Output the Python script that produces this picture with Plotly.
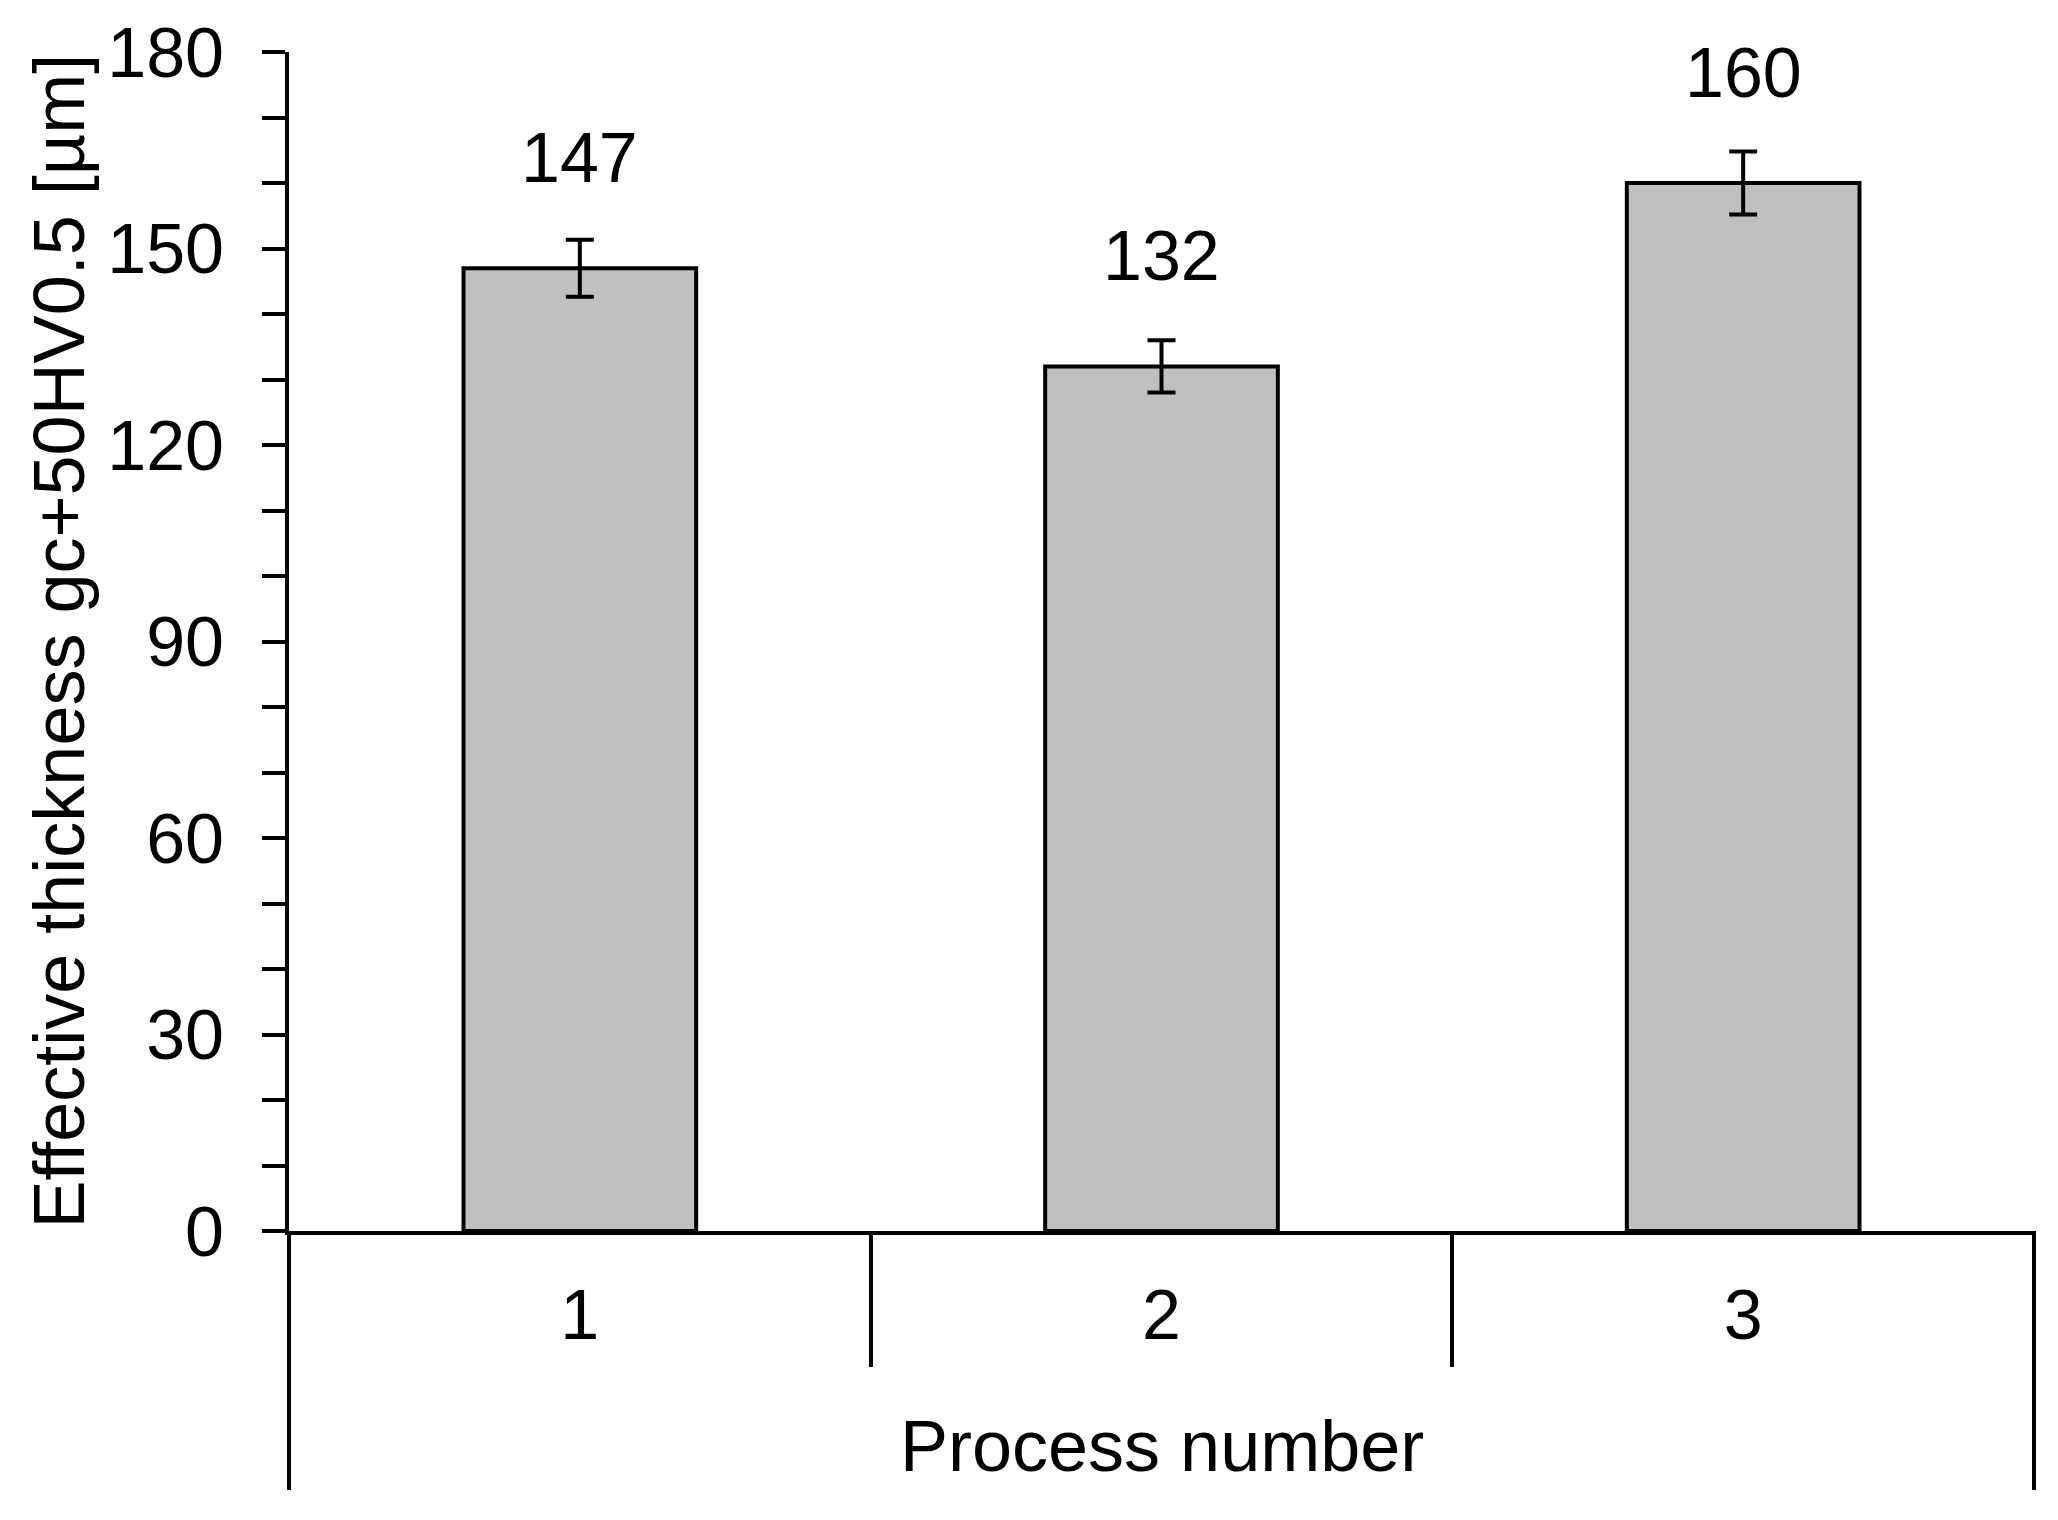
import plotly.graph_objects as go

categories = ["1", "2", "3"]
values = [147, 132, 160]
errors = [4.35, 4.0, 4.8]
value_labels = ["147", "132", "160"]
y_ticks = [0, 30, 60, 90, 120, 150, 180]
x_title = "Process number"
y_title = "Effective thickness gc+50HV0.5 [µm]"

FONT = "Liberation Sans, Arial, sans-serif"
FS = 70
FT = 72
LW = 4

fig = go.Figure()
fig.add_trace(go.Bar(
    x=categories, y=values,
    marker=dict(color="#C0C0C0", line=dict(color="black", width=LW)),
    error_y=dict(type="data", array=errors, visible=True, color="black", thickness=4, width=14),
    width=0.4,
    showlegend=False,
))

# value labels above each bar
for i, (v, t) in enumerate(zip(values, value_labels)):
    fig.add_annotation(x=i, y=v, xref="x", yref="y", text=t, showarrow=False,
                       yanchor="middle", yshift=110,
                       font=dict(size=FS, color="black", family=FONT))

# axis titles
fig.add_annotation(x=0.5, y=0, xref="paper", yref="paper", text=x_title, showarrow=False,
                   xanchor="center", yanchor="middle", yshift=-215,
                   font=dict(size=FT, color="black", family=FONT))
fig.add_annotation(x=0, y=0.5, xref="paper", yref="paper", text=y_title, showarrow=False,
                   textangle=-90, xanchor="center", yanchor="middle", xshift=-231,
                   font=dict(size=FT, color="black", family=FONT))

fig.update_layout(
    width=2042, height=1504,
    margin=dict(l=281, r=16, t=44, b=281),
    paper_bgcolor="white", plot_bgcolor="white",
    font=dict(family=FONT, size=FS, color="black"),
    bargap=0.6,
)

fig.update_xaxes(
    type="category",
    showline=True, linecolor="black", linewidth=LW,
    ticks="outside", tickson="boundaries", ticklen=132, tickwidth=LW, tickcolor="black",
    ticklabelstandoff=20,
    tickfont=dict(size=FS, family=FONT),
    automargin=False,
    showgrid=False,
)

fig.update_yaxes(
    range=[0, 180], tickvals=y_ticks,
    showline=True, linecolor="black", linewidth=LW,
    ticks="outside", ticklen=23, tickwidth=LW, tickcolor="black",
    minor=dict(dtick=10, ticks="outside", ticklen=23, tickwidth=LW, tickcolor="black"),
    ticklabelstandoff=24,
    tickfont=dict(size=FS, family=FONT),
    automargin=False,
    showgrid=False, zeroline=False,
)

# bracket lines below the category axis (outer edges)
for xp in (0, 1):
    fig.add_shape(type="line", xref="paper", yref="paper", ysizemode="pixel", yanchor=0,
                  x0=xp, x1=xp, y0=0, y1=-259,
                  line=dict(color="black", width=LW))

fig.write_html("out.html")
